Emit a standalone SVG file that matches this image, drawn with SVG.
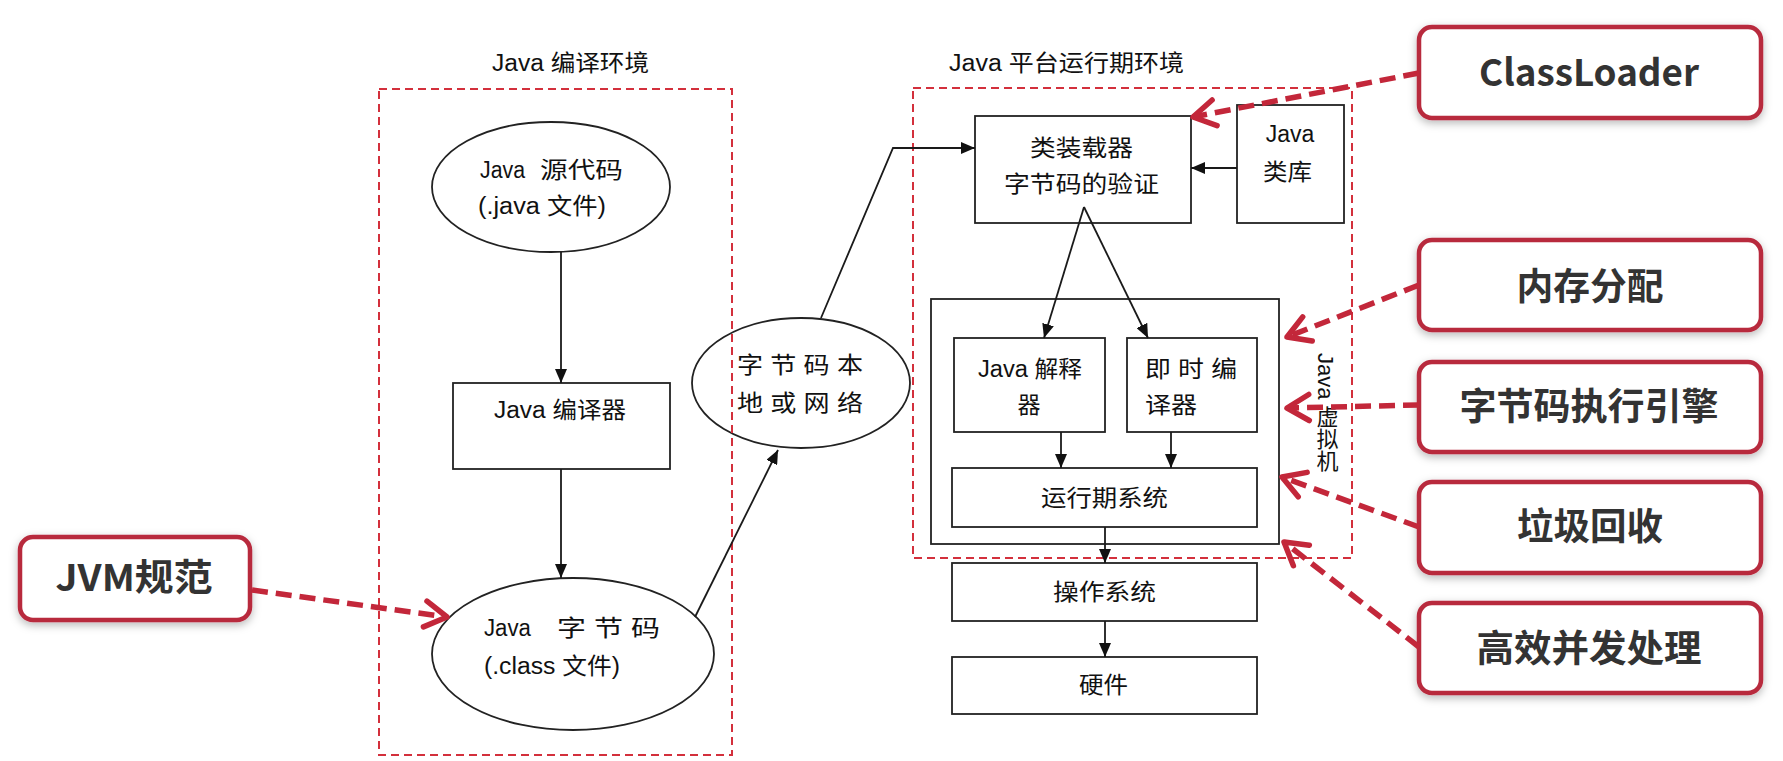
<svg xmlns="http://www.w3.org/2000/svg" width="1783" height="761" viewBox="0 0 1783 761">
<style>
.t{font-family:"Liberation Sans","Noto Sans CJK SC",sans-serif;font-size:23px;fill:#111;}
.tm{text-anchor:middle;}
.b{font-family:"Noto Sans CJK SC","Liberation Sans",sans-serif;font-weight:bold;font-size:37px;fill:#333;text-anchor:middle;}
.box{fill:#fff;stroke:#222;stroke-width:1.8;}
.zone{fill:none;stroke:#d3303c;stroke-width:2;stroke-dasharray:8 5;}
.rb{fill:#fff;stroke:#b8293e;stroke-width:4.5;filter:url(#sh);}
.ln{fill:none;stroke:#1a1a1a;stroke-width:1.8;marker-end:url(#ah);}
.rl{fill:none;stroke:#c3273a;stroke-width:5.5;stroke-dasharray:16 8;marker-end:url(#ch);}
</style>
<defs>
<filter id="sh" x="-10%" y="-20%" width="120%" height="150%">
<feDropShadow dx="0" dy="3" stdDeviation="4" flood-color="#000" flood-opacity="0.28"/>
</filter>
<marker id="ah" markerUnits="userSpaceOnUse" markerWidth="14" markerHeight="12" viewBox="0 0 14 12" refX="14" refY="6" orient="auto">
<path d="M0,0 L14,6 L0,12 z" fill="#111"/>
</marker>
<marker id="ch" markerUnits="userSpaceOnUse" markerWidth="32" markerHeight="34" viewBox="0 0 32 34" refX="28" refY="17" orient="auto">
<path d="M6,4 L28,17 L6,30" fill="none" stroke="#c3273a" stroke-width="5.5" stroke-linecap="round" stroke-linejoin="round"/>
</marker>
</defs>
<rect width="1783" height="761" fill="#fff"/>

<g id="src">
<ellipse class="box" cx="551" cy="187" rx="119" ry="65"/>
<text class="t" x="480" y="178" textLength="45" lengthAdjust="spacingAndGlyphs">Java</text>
<text class="t" x="540" y="178" textLength="83" lengthAdjust="spacingAndGlyphs">源代码</text>
<text class="t" x="478" y="214" textLength="128" lengthAdjust="spacingAndGlyphs">(.java 文件)</text>
</g>
<g id="compiler">
<rect class="box" x="453" y="383" width="217" height="86"/>
<text class="t" x="494" y="418" textLength="132" lengthAdjust="spacingAndGlyphs">Java 编译器</text>
</g>
<g id="bytecode">
<ellipse class="box" cx="573" cy="654" rx="141" ry="76"/>
<text class="t" x="484" y="636" textLength="47" lengthAdjust="spacingAndGlyphs">Java</text>
<text class="t" x="557" y="636" textLength="103" lengthAdjust="spacingAndGlyphs">字 节 码</text>
<text class="t" x="484" y="674" textLength="136" lengthAdjust="spacingAndGlyphs">(.class 文件)</text>
</g>
<g id="net">
<ellipse class="box" cx="801" cy="383" rx="109" ry="65"/>
<text class="t" x="737" y="373" textLength="126" lengthAdjust="spacingAndGlyphs">字 节 码 本</text>
<text class="t" x="737" y="411" textLength="126" lengthAdjust="spacingAndGlyphs">地 或 网 络</text>
</g>

<g id="zone-compile">
<rect class="zone" x="379" y="89" width="353" height="666"/>
<text class="t" x="492" y="71" textLength="157" lengthAdjust="spacingAndGlyphs">Java 编译环境</text>
</g>
<g id="zone-runtime">
<rect class="zone" x="913" y="88" width="439" height="470"/>
<text class="t" x="949" y="71" textLength="235" lengthAdjust="spacingAndGlyphs">Java 平台运行期环境</text>
</g>

<g id="classloader-box">
<rect class="box" x="975" y="116" width="216" height="107"/>
<text class="t" x="1030" y="156" textLength="103" lengthAdjust="spacingAndGlyphs">类装载器</text>
<text class="t" x="1004" y="192" textLength="155" lengthAdjust="spacingAndGlyphs">字节码的验证</text>
</g>
<g id="javalib">
<rect class="box" x="1237" y="105" width="107" height="118"/>
<text class="t tm" x="1290" y="142">Java</text>
<text class="t" x="1263" y="180" textLength="49" lengthAdjust="spacingAndGlyphs">类库</text>
</g>
<g id="jvm">
<rect class="box" x="931" y="299" width="348" height="245"/>
<text class="t" x="1325" y="353" style="writing-mode:vertical-rl;font-size:22px">Java 虚拟机</text>
</g>
<g id="interp">
<rect class="box" x="954" y="338" width="151" height="94"/>
<text class="t" x="978" y="377" textLength="104" lengthAdjust="spacingAndGlyphs">Java 解释</text>
<text class="t tm" x="1029" y="413">器</text>
</g>
<g id="jit">
<rect class="box" x="1127" y="338" width="130" height="94"/>
<text class="t" x="1145" y="377" textLength="92" lengthAdjust="spacingAndGlyphs">即 时 编</text>
<text class="t" x="1145" y="413" textLength="52" lengthAdjust="spacingAndGlyphs">译器</text>
</g>
<g id="runtime">
<rect class="box" x="952" y="468" width="305" height="59"/>
<text class="t" x="1041" y="506" textLength="127" lengthAdjust="spacingAndGlyphs">运行期系统</text>
</g>
<g id="os">
<rect class="box" x="952" y="563" width="305" height="58"/>
<text class="t" x="1053" y="600" textLength="103" lengthAdjust="spacingAndGlyphs">操作系统</text>
</g>
<g id="hw">
<rect class="box" x="952" y="657" width="305" height="57"/>
<text class="t" x="1079" y="693" textLength="49" lengthAdjust="spacingAndGlyphs">硬件</text>
</g>

<g id="tag-classloader">
<rect class="rb" x="1419" y="27" width="342" height="91" rx="13"/>
<text class="b" x="1589" y="86" textLength="220" lengthAdjust="spacingAndGlyphs">ClassLoader</text>
</g>
<g id="tag-memory">
<rect class="rb" x="1419" y="240" width="342" height="90" rx="13"/>
<text class="b" x="1590" y="300" textLength="147" lengthAdjust="spacingAndGlyphs">内存分配</text>
</g>
<g id="tag-engine">
<rect class="rb" x="1419" y="362" width="342" height="90" rx="13"/>
<text class="b" x="1589" y="420" textLength="259" lengthAdjust="spacingAndGlyphs">字节码执行引擎</text>
</g>
<g id="tag-gc">
<rect class="rb" x="1419" y="482" width="342" height="91" rx="13"/>
<text class="b" x="1590" y="540" textLength="146" lengthAdjust="spacingAndGlyphs">垃圾回收</text>
</g>
<g id="tag-concurrency">
<rect class="rb" x="1419" y="603" width="342" height="90" rx="13"/>
<text class="b" x="1589" y="662" textLength="225" lengthAdjust="spacingAndGlyphs">高效并发处理</text>
</g>
<g id="tag-jvmspec">
<rect class="rb" x="20" y="537" width="230" height="83" rx="13"/>
<text class="b" x="134" y="591" textLength="157" lengthAdjust="spacingAndGlyphs">JVM规范</text>
</g>

<g id="connectors">
<line class="ln" x1="561" y1="252" x2="561" y2="383"/>
<line class="ln" x1="561" y1="469" x2="561" y2="578"/>
<line class="ln" x1="695" y1="617" x2="778" y2="450"/>
<polyline class="ln" points="821,318 893,148 975,148"/>
<line class="ln" x1="1237" y1="168" x2="1191" y2="168"/>
<line class="ln" x1="1084" y1="207" x2="1044" y2="338"/>
<line class="ln" x1="1084" y1="207" x2="1148" y2="338"/>
<line class="ln" x1="1061" y1="432" x2="1061" y2="468"/>
<line class="ln" x1="1171" y1="432" x2="1171" y2="468"/>
<line class="ln" x1="1105" y1="527" x2="1105" y2="563"/>
<line class="ln" x1="1105" y1="621" x2="1105" y2="657"/>
<line class="rl" x1="1419" y1="73" x2="1193" y2="117"/>
<line class="rl" x1="1419" y1="285" x2="1287" y2="337"/>
<line class="rl" x1="1419" y1="405" x2="1287" y2="408"/>
<line class="rl" x1="1419" y1="527" x2="1282" y2="477"/>
<line class="rl" x1="1419" y1="647" x2="1284" y2="542"/>
<line class="rl" x1="252" y1="590" x2="447" y2="617"/>
</g>
</svg>
